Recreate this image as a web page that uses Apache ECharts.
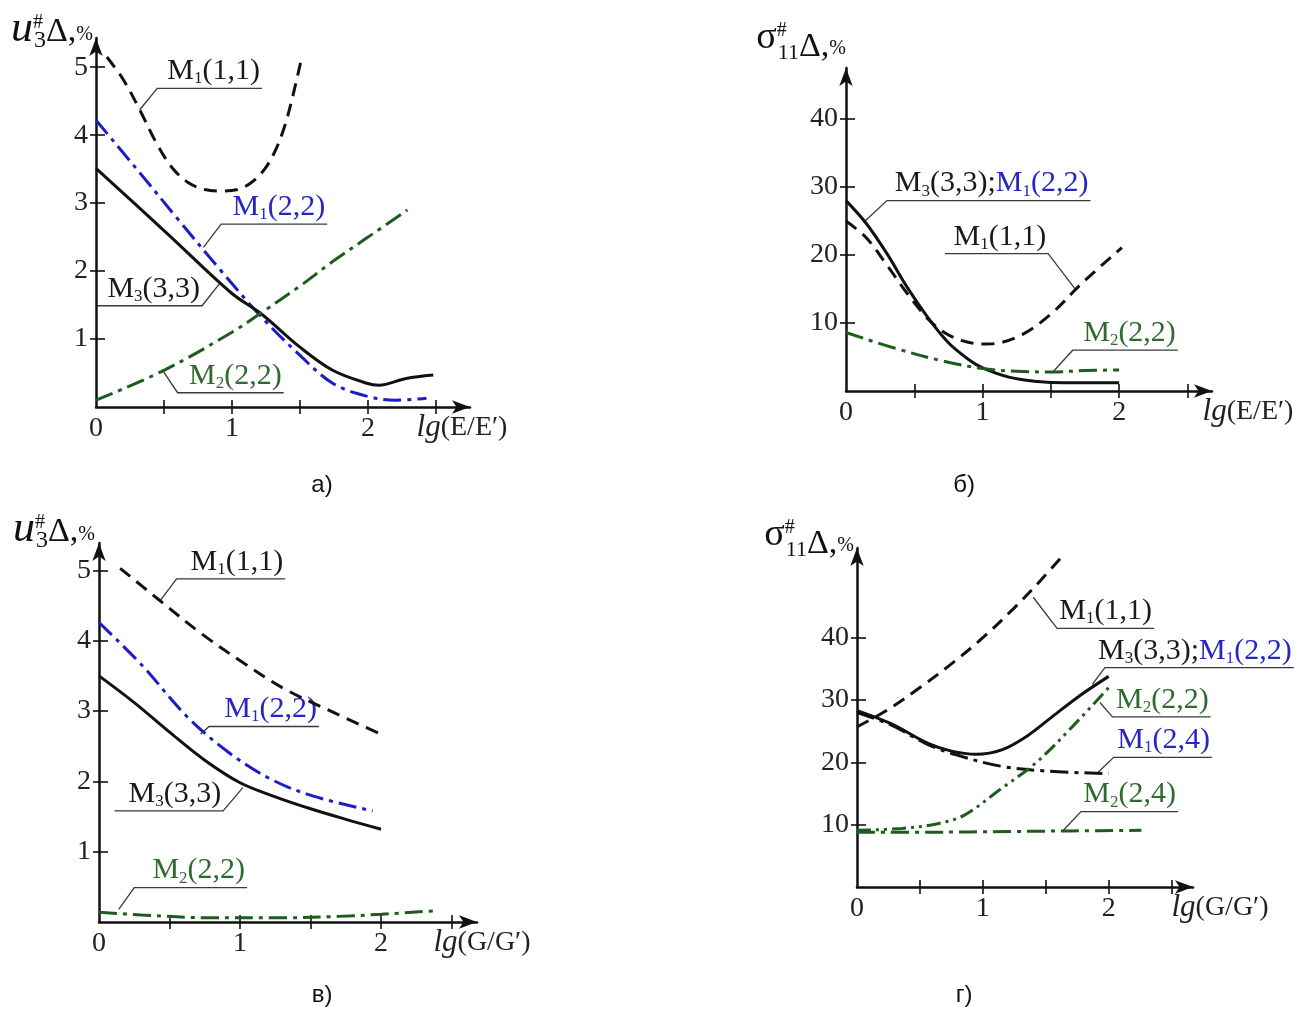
<!DOCTYPE html>
<html>
<head>
<meta charset="utf-8">
<title></title>
<script src="https://cdn.jsdelivr.net/npm/echarts@6/dist/echarts.min.js"></script>
<style>html,body{margin:0;background:#fff}</style>
</head>
<body>
<div id="main" style="width:1308px;height:1012px;"></div>
<script type="text/javascript">
// ---- data: [lg ratio, error %] ----
// а) u3, E/E'
var a_M11  = [[0.08,5.15],[0.2,4.82],[0.32,4.38],[0.44,3.9],[0.56,3.52],[0.68,3.3],[0.8,3.2],[0.92,3.18],[1.04,3.2],[1.14,3.3],[1.24,3.5],[1.32,3.78],[1.39,4.15],[1.45,4.6],[1.51,5.12]];
var a_M122 = [[0,4.22],[0.3,3.5],[0.6,2.77],[0.9,2.05],[1.2,1.36],[1.5,0.76],[1.74,0.35],[1.99,0.16],[2.2,0.1],[2.43,0.13]];
var a_M333 = [[0,3.51],[0.52,2.56],[1.0,1.67],[1.21,1.38],[1.5,0.88],[1.74,0.54],[1.99,0.35],[2.08,0.32],[2.28,0.42],[2.48,0.47]];
var a_M222 = [[0,0.1],[0.5,0.54],[1.0,1.1],[1.21,1.38],[1.5,1.78],[1.74,2.14],[2.0,2.5],[2.29,2.9]];
// б) sigma11, E/E'
var b_M333 = [[0,28],[0.15,24.6],[0.3,20.2],[0.45,15.2],[0.6,10.8],[0.75,7.1],[0.9,4.6],[1.0,3.4],[1.2,2.0],[1.4,1.4],[1.6,1.2],[2.0,1.2]];
var b_M11  = [[0,25],[0.15,22.5],[0.3,18.5],[0.45,14.3],[0.6,10.6],[0.72,8.6],[0.85,7.4],[1.0,6.9],[1.1,7.0],[1.29,8.3],[1.5,11.3],[1.72,15.7],[2.02,21.1]];
var b_M222 = [[0,8.6],[0.34,6.4],[0.71,4.4],[1.0,3.3],[1.25,2.9],[1.5,2.8],[1.75,3.0],[2.0,3.1]];
// в) u3, G/G'
var v_M11  = [[0.15,5.03],[0.42,4.59],[0.72,4.11],[1.02,3.69],[1.32,3.31],[1.62,3.02],[2.0,2.67]];
var v_M122 = [[0,4.26],[0.31,3.64],[0.62,2.93],[0.92,2.41],[1.22,2.03],[1.52,1.79],[1.94,1.58]];
var v_M333 = [[0,3.5],[0.25,3.12],[0.5,2.7],[0.75,2.3],[1.0,1.98],[1.25,1.78],[1.5,1.61],[1.75,1.46],[2.0,1.32]];
var v_M222 = [[0,0.14],[0.3,0.1],[0.8,0.06],[1.3,0.06],[1.7,0.08],[2.0,0.11],[2.38,0.16]];
// г) sigma11, G/G'
var g_M11  = [[0,25.7],[0.25,28.5],[0.5,32.0],[0.75,35.8],[1.0,40.0],[1.25,44.8],[1.45,49.0],[1.64,53.3]];
var g_M333 = [[0,28.3],[0.27,26.2],[0.56,23.1],[0.75,21.8],[0.95,21.3],[1.15,22.0],[1.35,24.2],[1.55,27.3],[1.77,30.7],[2.0,33.8]];
var g_M124 = [[0,28.0],[0.27,26.0],[0.56,22.9],[0.79,21.2],[1.14,19.4],[1.51,18.6],[2.0,18.2]];
var g_M222 = [[0,9.1],[0.36,9.4],[0.65,10.2],[0.85,11.5],[1.14,15.7],[1.42,19.9],[1.71,25.7],[2.0,32.0]];
var g_M224 = [[0,8.8],[0.6,8.8],[1.2,8.9],[1.7,9.0],[2.26,9.1]];

var xTicks = [0.5, 1, 1.5, 2, 2.5];
var xLabels = [0, 1, 2];
var uTicks = [1, 2, 3, 4, 5];
var sTicks = [10, 20, 30, 40];

// ---- styles ----
var serif = '"Liberation Serif", "Times New Roman", serif';
var K = '#111111', B = '#1c1cc8', G = '#1e5c1e';
var KT = '#1a1a1a', BT = '#2626c0', GT = '#2f6a2f';
var dash = [13, 8], dashDot = [18, 6, 4, 6], dashDot2 = [14, 5, 3, 5, 3, 5];

function lab(c, sub, args) {
  return '{' + c + '|M}{' + c + 's|' + sub + '}{' + c + '|(' + args + ')}';
}
var L = {
  M11: lab('k', 1, '1,1'),
  M122: lab('b', 1, '2,2'),
  M333: lab('k', 3, '3,3'),
  M222: lab('g', 2, '2,2'),
  M124: lab('b', 1, '2,4'),
  M224: lab('g', 2, '2,4'),
  MM: '{k|M}{ks|3}{k|(3,3);}{b|M}{bs|1}{b|(2,2)}'
};
function tok(col, size, lh, va) {
  return { fill: col, fontSize: size, fontFamily: serif, lineHeight: lh, verticalAlign: va, align: 'left' };
}
var labRich = {
  k: tok(KT, 30, 32, 'middle'), ks: tok(KT, 17, 17, 'bottom'),
  b: tok(BT, 30, 32, 'middle'), bs: tok(BT, 17, 17, 'bottom'),
  g: tok(GT, 30, 32, 'middle'), gs: tok(GT, 17, 17, 'bottom')
};

// axis titles: every piece sits on the bottom of the line box, its height sets its baseline
function nt(size, h, extra) {
  return Object.assign({ color: K, fontFamily: serif, fontSize: size, height: h, lineHeight: h,
    verticalAlign: 'bottom', align: 'left' }, extra || {});
}
var uName = '{u|u}{uh|#}{us|3}{ud|Δ,}{up|%}';
var sName = '{s|σ}{sh|#}{ss|11}{sd|Δ,}{sp|%}';
var nameRich = {
  u: nt(44, 42, { fontStyle: 'italic' }), uh: nt(20, 54, { width: 1 }), us: nt(24, 18),
  ud: nt(34, 36), up: nt(20, 30),
  s: nt(38, 47), sh: nt(20, 62, { width: 1 }), ss: nt(22, 17),
  sd: nt(34, 30), sp: nt(20, 26)
};

// notes: [label, underline x1, x2, y, leader end x, y]  (data units)
var panels = [
  { grid: { left: 96, top: 38, width: 374, height: 369 }, xMax: 2.75, yMax: 5.43, yTicks: uTicks,
    yName: uName, yGap: -12, yPad: 3, xName: 'E/E′', xGap: -8, caption: 'а)', cap: [322, 485],
    series: [[a_M11, K, dash], [a_M122, B, dashDot], [a_M333, K, 'solid'], [a_M222, G, dashDot]],
    notes: [['M11', 0.45, 1.22, 4.69, 0.32, 4.37], ['M122', 0.92, 1.70, 2.69, 0.79, 2.35],
            ['M333', 0.01, 0.78, 1.49, 0.91, 1.82], ['M222', 0.60, 1.38, 0.21, 0.49, 0.54]] },
  { grid: { left: 846, top: 68, width: 366, height: 323 }, xMax: 2.68, yMax: 47.5, yTicks: sTicks,
    yName: sName, yGap: 6, yPad: 0, xName: 'E/E′', xGap: 36, caption: 'б)', cap: [964, 485],
    series: [[b_M11, K, dash], [b_M333, K, 'solid'], [b_M222, G, dashDot]],
    notes: [['MM', 0.30, 1.79, 28.0, 0.14, 25.0], ['M11', 0.725, 1.48, 20.2, 1.68, 14.95],
            ['M222', 1.66, 2.43, 6.0, 1.52, 2.9]] },
  { grid: { left: 99, top: 543, width: 378, height: 379 }, xMax: 2.68, yMax: 5.39, yTicks: uTicks,
    yName: uName, yGap: -7, yPad: 4, xName: 'G/G′', xGap: 5, caption: 'в)', cap: [322, 995],
    series: [[v_M11, K, dash], [v_M122, B, dashDot], [v_M333, K, 'solid'], [v_M222, G, dashDot]],
    notes: [['M11', 0.55, 1.32, 4.88, 0.43, 4.56], ['M122', 0.78, 1.56, 2.78, 0.72, 2.67],
            ['M333', 0.11, 0.88, 1.58, 1.02, 1.91], ['M222', 0.25, 1.05, 0.49, 0.14, 0.18]] },
  { grid: { left: 857, top: 548, width: 336, height: 339 }, xMax: 2.67, yMax: 54.4, yTicks: sTicks,
    yName: sName, yGap: -11, yPad: 3, xName: 'G/G′', xGap: 27, caption: 'г)', cap: [964, 995],
    series: [[g_M11, K, dash], [g_M333, K, 'solid'], [g_M124, K, dashDot], [g_M222, G, dashDot2], [g_M224, G, dashDot]],
    notes: [['M11', 1.59, 2.36, 41.5, 1.40, 46.5], ['MM', 1.97, 3.47, 35.2, 1.87, 32.5],
            ['M222', 2.03, 2.81, 27.3, 1.93, 29.6], ['M124', 2.04, 2.82, 20.8, 1.91, 18.3],
            ['M224', 1.78, 2.55, 12.1, 1.64, 9.1]] }
];

var chart = echarts.init(document.getElementById('main'));
var option = { animation: false, backgroundColor: '#fff', grid: [], xAxis: [], yAxis: [], series: [] };
var axisCol = '#111';

panels.forEach(function (p, i) {
  var g = Object.assign({ containLabel: false, outerBoundsMode: 'none' }, p.grid);
  option.grid.push(g);
  // main x axis: line, arrow, ticks below, labels, name
  option.xAxis.push({
    gridIndex: i, type: 'value', position: 'bottom', min: 0, max: p.xMax,
    axisLine: { onZero: false, symbol: ['none', 'arrow'], symbolSize: [10, 18], lineStyle: { color: axisCol, width: 2.5 } },
    axisTick: { customValues: xTicks, length: 7, lineStyle: { color: axisCol, width: 1.6 } },
    axisLabel: { customValues: xLabels, margin: 8, color: '#222', fontFamily: serif, fontSize: 28 },
    splitLine: { show: false },
    name: '{i|lg}{n|(' + p.xName + ')}', nameLocation: 'end', nameGap: p.xGap,
    nameTextStyle: { align: 'center', verticalAlign: 'top', padding: [5, 0, 0, 0],
      rich: { i: { fontStyle: 'italic', fontSize: 31, fontFamily: serif, color: '#222' },
              n: { fontSize: 28, fontFamily: serif, color: '#222' } } }
  });
  // second x axis only for the tick half above the line
  option.xAxis.push({
    gridIndex: i, type: 'value', position: 'bottom', min: 0, max: p.xMax,
    axisLine: { show: false, onZero: false },
    axisTick: { customValues: xTicks, inside: true, length: 7, lineStyle: { color: axisCol, width: 1.6 } },
    axisLabel: { show: false }, splitLine: { show: false }
  });
  option.yAxis.push({
    gridIndex: i, type: 'value', position: 'left', min: 0, max: p.yMax,
    axisLine: { onZero: false, symbol: ['none', 'arrow'], symbolSize: [10, 18], lineStyle: { color: axisCol, width: 2.5 } },
    axisTick: { customValues: p.yTicks, length: 6, lineStyle: { color: axisCol, width: 1.6 } },
    axisLabel: { customValues: p.yTicks, margin: 8, color: '#222', fontFamily: serif, fontSize: 28 },
    splitLine: { show: false },
    name: p.yName, nameLocation: 'end', nameGap: p.yGap,
    nameTextStyle: { align: 'right', verticalAlign: 'bottom', padding: [0, p.yPad, 0, 0], rich: nameRich }
  });
  option.yAxis.push({
    gridIndex: i, type: 'value', position: 'left', min: 0, max: p.yMax,
    axisLine: { show: false, onZero: false },
    axisTick: { customValues: p.yTicks, inside: true, length: 9, lineStyle: { color: axisCol, width: 1.6 } },
    axisLabel: { show: false }, splitLine: { show: false }
  });
  p.series.forEach(function (s) {
    option.series.push({
      type: 'line', xAxisIndex: 2 * i, yAxisIndex: 2 * i, data: s[0],
      symbol: 'none', smooth: 0.35, silent: true,
      lineStyle: { color: s[1], width: 3, type: s[2] }
    });
  });
});

chart.setOption(option);

// leader lines, underlines and captions
var graphics = [];
panels.forEach(function (p, i) {
  function px(x, y) { return chart.convertToPixel({ xAxisIndex: 2 * i, yAxisIndex: 2 * i }, [x, y]); }
  p.notes.forEach(function (n) {
    var l = px(n[1], n[3]), r = px(n[2], n[3]), a = px(n[4], n[5]);
    var near = Math.abs(a[0] - l[0]) < Math.abs(a[0] - r[0]) ? l : r;
    var far = near === l ? r : l;
    graphics.push({ type: 'polyline', silent: true, shape: { points: [a, near, far] },
      style: { stroke: '#3a3a3a', lineWidth: 1.3, fill: null } });
    graphics.push({ type: 'text', silent: true, x: r[0] - 2, y: r[1] - 1,
      style: { text: L[n[0]], rich: labRich, align: 'right', verticalAlign: 'bottom' } });
  });
  graphics.push({ type: 'text', silent: true, x: p.cap[0], y: p.cap[1],
    style: { text: p.caption, fill: '#111', fontSize: 24, fontFamily: '"Liberation Sans", Arial, sans-serif',
      align: 'center', verticalAlign: 'middle' } });
});
chart.setOption({ graphic: graphics });
</script>
</body>
</html>
